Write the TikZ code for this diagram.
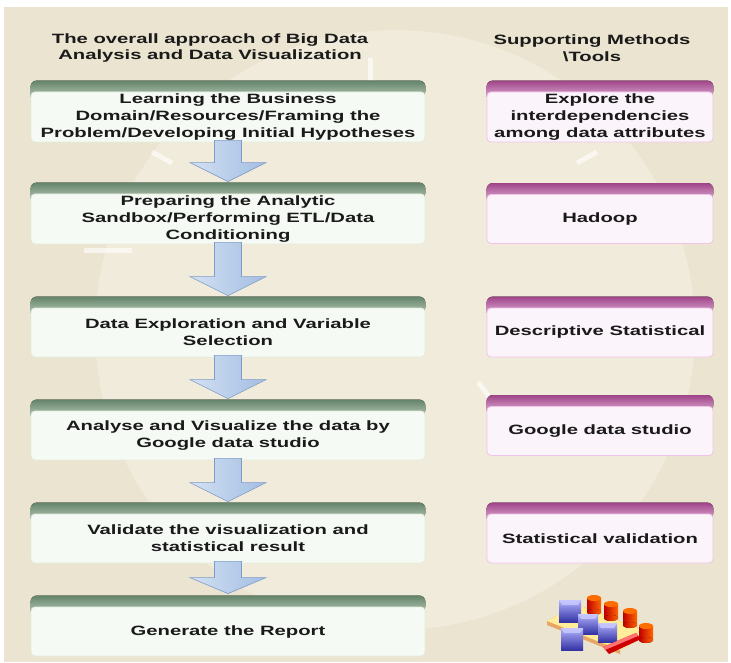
\documentclass[tikz,border=0pt]{standalone}
\usepackage{fontspec}
\setmainfont{Liberation Sans}[FakeStretch=1.5]
\usetikzlibrary{calc}

\definecolor{paper}{HTML}{EAE4D0}
\definecolor{paperlight}{HTML}{F0EBDA}
\definecolor{ink}{HTML}{1A1A1A}
\definecolor{stepbody}{HTML}{F6FAF5}
\definecolor{stepedge}{HTML}{E4ECDA}
\definecolor{greenhi}{HTML}{648469}
\definecolor{greenlo}{HTML}{9CB39E}
\definecolor{toolbody}{HTML}{FCF4FB}
\definecolor{tooledge}{HTML}{F0C4EA}
\definecolor{pinkhi}{HTML}{A04489}
\definecolor{pinklo}{HTML}{CF8FC0}
\definecolor{arrowlo}{HTML}{A3BDE2}
\definecolor{arrowhi}{HTML}{D3E1F3}
\definecolor{arrowedge}{HTML}{7E9CC8}

\begin{document}
\begin{tikzpicture}[
        x=1pt, y=-1pt,
        font=\fontsize{13.5}{16.7}\selectfont\bfseries,
        StepBox/.style={rectangle, rounded corners=4pt, minimum width=394pt, minimum height=49pt,
            align=center, inner sep=2pt, fill=stepbody, draw=stepedge, line width=0.8pt, text=ink,
            append after command={\pgfextra{\fill[top color=greenhi, bottom color=greenlo!80!white]
                ([yshift=-5pt]\tikzlastnode.north west) [rounded corners=6pt] |- ([yshift=11pt]\tikzlastnode.north)
                -| ([yshift=-5pt]\tikzlastnode.north east) [sharp corners] -- cycle;}}},
        ToolBox/.style={rectangle, rounded corners=4pt, minimum width=226pt, minimum height=49pt,
            align=center, inner sep=2pt, fill=toolbody, draw=tooledge, line width=0.8pt, text=ink,
            append after command={\pgfextra{\fill[top color=pinkhi, bottom color=pinklo!80!white]
                ([yshift=-5pt]\tikzlastnode.north west) [rounded corners=6pt] |- ([yshift=11pt]\tikzlastnode.north)
                -| ([yshift=-5pt]\tikzlastnode.north east) [sharp corners] -- cycle;}}},
        FlowArrow/.style={left color=arrowhi, right color=arrowlo, draw=arrowedge, line width=0.6pt, line join=miter},
        ]
    \useasboundingbox (0,0) rectangle (731,662);

    % backdrop
    \fill[paper] (4,7) rectangle (728,662);
    \begin{scope}
        \clip (4,7) rectangle (728,662);
        \fill[paperlight] (395,330) circle (300);
    \end{scope}
    \begin{scope}[white, opacity=0.6, line width=5pt]
        \draw (370,58) -- (370,82);
        \draw (152,152) -- (172,163);
        \draw (577,163) -- (597,152);
        \draw (478,382) -- (490,398);
        \draw (84,250) -- (132,250);
    \end{scope}

    % headings
    \node[align=center, text=ink] (hdl) at (210,48) {The overall approach of Big Data\\Analysis and Data Visualization};
    \node[align=center, text=ink] (hdr) at (592,48) {Supporting Methods\\\textbackslash Tools};

    % process steps
    \node [StepBox] (s1) at (228,117) {Learning the Business\\Domain/Resources/Framing the\\Problem/Developing Initial Hypotheses};
    \node [StepBox] (s2) at (228,219) {Preparing the Analytic\\Sandbox/Performing ETL/Data\\Conditioning};
    \node [StepBox] (s3) at (228,332.5) {Data Exploration and Variable\\Selection};
    \node [StepBox] (s4) at (228,435.5) {Analyse and Visualize the data by\\Google data studio};
    \node [StepBox] (s5) at (228,538.5) {Validate the visualization and\\statistical result};
    \node [StepBox] (s6) at (228,631.5) {Generate the Report};

    % supporting methods
    \node [ToolBox] (t1) at (600,117) {Explore the\\interdependencies\\among data attributes};
    \node [ToolBox] (t2) at (600,219) {Hadoop};
    \node [ToolBox] (t3) at (600,332.5) {Descriptive Statistical};
    \node [ToolBox] (t4) at (600,431) {Google data studio};
    \node [ToolBox] (t5) at (600,538.5) {Statistical validation};

    % arrows between the steps
    \draw[FlowArrow] ($(s1.south)+(-13.5,-2)$) -- ($(s1.south)+(13.5,-2)$) -- ($(s2.north)+(13.5,-31)$) -- ($(s2.north)+(38,-31)$) -- ($(s2.north)+(0,-12)$) -- ($(s2.north)+(-38,-31)$) -- ($(s2.north)+(-13.5,-31)$) -- cycle;
    \draw[FlowArrow] ($(s2.south)+(-13.5,-2)$) -- ($(s2.south)+(13.5,-2)$) -- ($(s3.north)+(13.5,-31)$) -- ($(s3.north)+(38,-31)$) -- ($(s3.north)+(0,-12)$) -- ($(s3.north)+(-38,-31)$) -- ($(s3.north)+(-13.5,-31)$) -- cycle;
    \draw[FlowArrow] ($(s3.south)+(-13.5,-2)$) -- ($(s3.south)+(13.5,-2)$) -- ($(s4.north)+(13.5,-31)$) -- ($(s4.north)+(38,-31)$) -- ($(s4.north)+(0,-12)$) -- ($(s4.north)+(-38,-31)$) -- ($(s4.north)+(-13.5,-31)$) -- cycle;
    \draw[FlowArrow] ($(s4.south)+(-13.5,-2)$) -- ($(s4.south)+(13.5,-2)$) -- ($(s5.north)+(13.5,-31)$) -- ($(s5.north)+(38,-31)$) -- ($(s5.north)+(0,-12)$) -- ($(s5.north)+(-38,-31)$) -- ($(s5.north)+(-13.5,-31)$) -- cycle;
    \draw[FlowArrow] ($(s5.south)+(-13.5,-2)$) -- ($(s5.south)+(13.5,-2)$) -- ($(s6.north)+(13.5,-29)$) -- ($(s6.north)+(38,-29)$) -- ($(s6.north)+(0,-13)$) -- ($(s6.north)+(-38,-29)$) -- ($(s6.north)+(-13.5,-29)$) -- cycle;

    % toy blocks
    \fill[orange!45!brown!70] (547,621) -- (578,605) -- (651,633) -- (620,650) -- (620,654) -- (547,625) -- cycle;
    \fill[orange!35!yellow!40!white] (547,621) -- (578,605) -- (651,633) -- (620,650) -- cycle;
    \foreach \cx/\cy in {594/598, 611/604, 630/611, 646/626} {
        \fill[left color=red!75!black, right color=orange!80!red] (\cx-7,\cy) rectangle (\cx+7,\cy+14);
        \fill[left color=red!75!black, right color=orange!80!red] (\cx,\cy+14) ellipse (7 and 3);
        \fill[orange!85!red] (\cx,\cy) ellipse (7 and 3);
    }
    \foreach \bx/\by/\bs in {559/600/22, 578/614/20, 598/623/19, 561/628/22} {
        \fill[top color=blue!30!white, bottom color=blue!55!black!80] (\bx,\by) rectangle (\bx+\bs,\by+\bs);
        \fill[blue!20!white, opacity=0.8] (\bx,\by) -- (\bx+\bs,\by) -- (\bx+\bs-3,\by+5) -- (\bx+3,\by+5) -- cycle;
    }
    \fill[red!80!black] (603,647) -- (636,633) -- (641,639) -- (609,654) -- cycle;
    \fill[red!55!white] (603,647) -- (636,633) -- (638,636) -- (605,650) -- cycle;
\end{tikzpicture}
\end{document}
